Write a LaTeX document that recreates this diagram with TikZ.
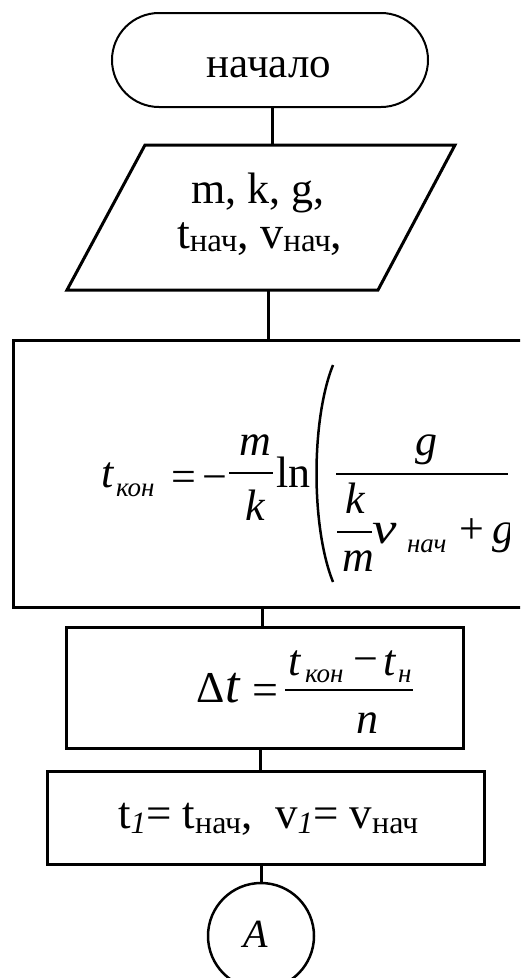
\documentclass[tikz,border=0pt]{standalone}
\usepackage{fontspec}
\setmainfont{Liberation Serif}[ItalicFont={Liberation Serif Italic}]
\usetikzlibrary{shapes.misc}
\begin{document}
\begin{tikzpicture}[x=1pt,y=-1pt,line join=miter,
  boxs/.style={draw,line width=3pt,inner sep=0pt,outer sep=0pt},
  conn/.style={line width=3pt},
  tx/.style={inner sep=0pt,outer sep=0pt,anchor=base west,font=\fontsize{43}{50}\selectfont},
  tc/.style={inner sep=0pt,outer sep=0pt,anchor=base,font=\fontsize{43}{50}\selectfont},
  it/.style={inner sep=0pt,outer sep=0pt,anchor=base west,font=\fontsize{44}{50}\selectfont\itshape},
  itc/.style={inner sep=0pt,outer sep=0pt,anchor=base,font=\fontsize{44}{50}\selectfont\itshape},
  up/.style={inner sep=0pt,outer sep=0pt,anchor=base west,font=\fontsize{44}{50}\selectfont},
  isub/.style={inner sep=0pt,outer sep=0pt,anchor=base west,font=\fontsize{27}{30}\selectfont\itshape},
  fbar/.style={line width=2pt}]
\clip (0,0) rectangle (520,978);
\fill[white] (0,0) rectangle (520,978);

% start terminal
\node[rounded rectangle,draw,line width=2pt,minimum width=316pt,minimum height=94pt,inner sep=0pt,outer sep=0pt] (start) at (270,60) {};
\node[tc] (starttxt) at (269,77) {начало};

% input parallelogram
\draw[line width=3pt] (145,145) -- (455,145) -- (378,290) -- (67,290) -- cycle;
\coordinate (ioT) at (271,145);
\coordinate (ioB) at (268,290);
\node[tx,font=\fontsize{44}{50}\selectfont] (in1) at (191,203) {m, k, g,};
\node[tx,font=\fontsize{46}{50}\selectfont] (in2) at (177,248) {t\raisebox{-3pt}{\fontsize{33}{34}\selectfont нач}, v\raisebox{-3pt}{\fontsize{33}{34}\selectfont нач},};

% big calc box (extends past right edge)
\node[boxs,minimum width=557pt,minimum height=267pt] (calc) at (291.5,473.5) {};

% formula 1
\begin{scope}
\clip (0,340) rectangle (509,607);
\node[it] (f1t) at (101,487) {t};
\node[isub] (f1s) at (116,496) {кон};
\node[up] (f1eq) at (171,491) {=};
\node[up] (f1mi) at (202,491) {−};
\draw[fbar] (229,473) -- (273,473);
\node[itc] (f1m) at (255,455) {m};
\node[itc] (f1k) at (255,520) {k};
\node[up] (f1ln) at (276,487) {ln};
\draw[line width=2.5pt] (333,365) .. controls (311,420) and (311,527) .. (333,582);
\draw[fbar] (336,474) -- (508,474);
\node[itc] (f1g) at (426,455) {g};
\node[itc] (f1k2) at (355,513) {k};
\draw[fbar] (337,532) -- (372,532);
\node[itc] (f1m2) at (358,571) {m};
\node[it] (f1v) at (372,543) {\scalebox{1.25}[1]{v}};
\node[isub] (f1s2) at (407,552) {нач};
\node[up] (f1pl) at (459,543) {+};
\node[it] (f1g2) at (492,543) {g};
\end{scope}

% dt box
\node[boxs,minimum width=397pt,minimum height=121pt] (dt) at (264.5,687.5) {};
\node[up] (f2d) at (196,702) {Δ};
\node[it,font=\fontsize{52}{56}\selectfont\itshape] (f2t) at (225,702) {t};
\node[up,font=\fontsize{46}{50}\selectfont] (f2eq) at (252,705) {=};
\draw[fbar] (285,690) -- (413,690);
\node[it] (f2t1) at (288,675) {t};
\node[isub] (f2s1) at (305,682) {кон};
\node[up] (f2mi) at (353,673) {−};
\node[it] (f2t2) at (383,675) {t};
\node[isub] (f2s2) at (398,682) {н};
\node[it] (f2n) at (356,733) {n};

% init box
\node[boxs,minimum width=437pt,minimum height=93pt] (init) at (265.5,817.5) {};
\node[tx,font=\fontsize{45}{50}\selectfont] (inittxt) at (118,828) {t\raisebox{-5pt}{\fontsize{31}{31}\selectfont\itshape 1}= t\raisebox{-5pt}{\fontsize{32}{32}\selectfont нач},\ \ v\raisebox{-5pt}{\fontsize{31}{31}\selectfont\itshape 1}= v\raisebox{-5pt}{\fontsize{32}{32}\selectfont нач}};

% connector circle
\node[circle,draw,line width=2.5pt,minimum size=106pt,inner sep=0pt,outer sep=0pt] (circA) at (261,936) {};
\node[itc,font=\fontsize{40}{44}\selectfont\itshape] (Atxt) at (256,947) {A};

% connectors
\draw[conn] (start.south) ++(2,0) coordinate (s1) -- (s1 |- ioT);
\draw[conn] (ioB) -- (ioB |- calc.north);
\draw[conn] ([xshift=-2.5pt]dt.north) -- ([xshift=-2.5pt]dt.north |- calc.south);
\draw[conn] ([xshift=-5.5pt]init.north) -- ([xshift=-5.5pt]init.north |- dt.south);
\draw[conn] (circA.north) -- (circA.north |- init.south);
\end{tikzpicture}
\end{document}
